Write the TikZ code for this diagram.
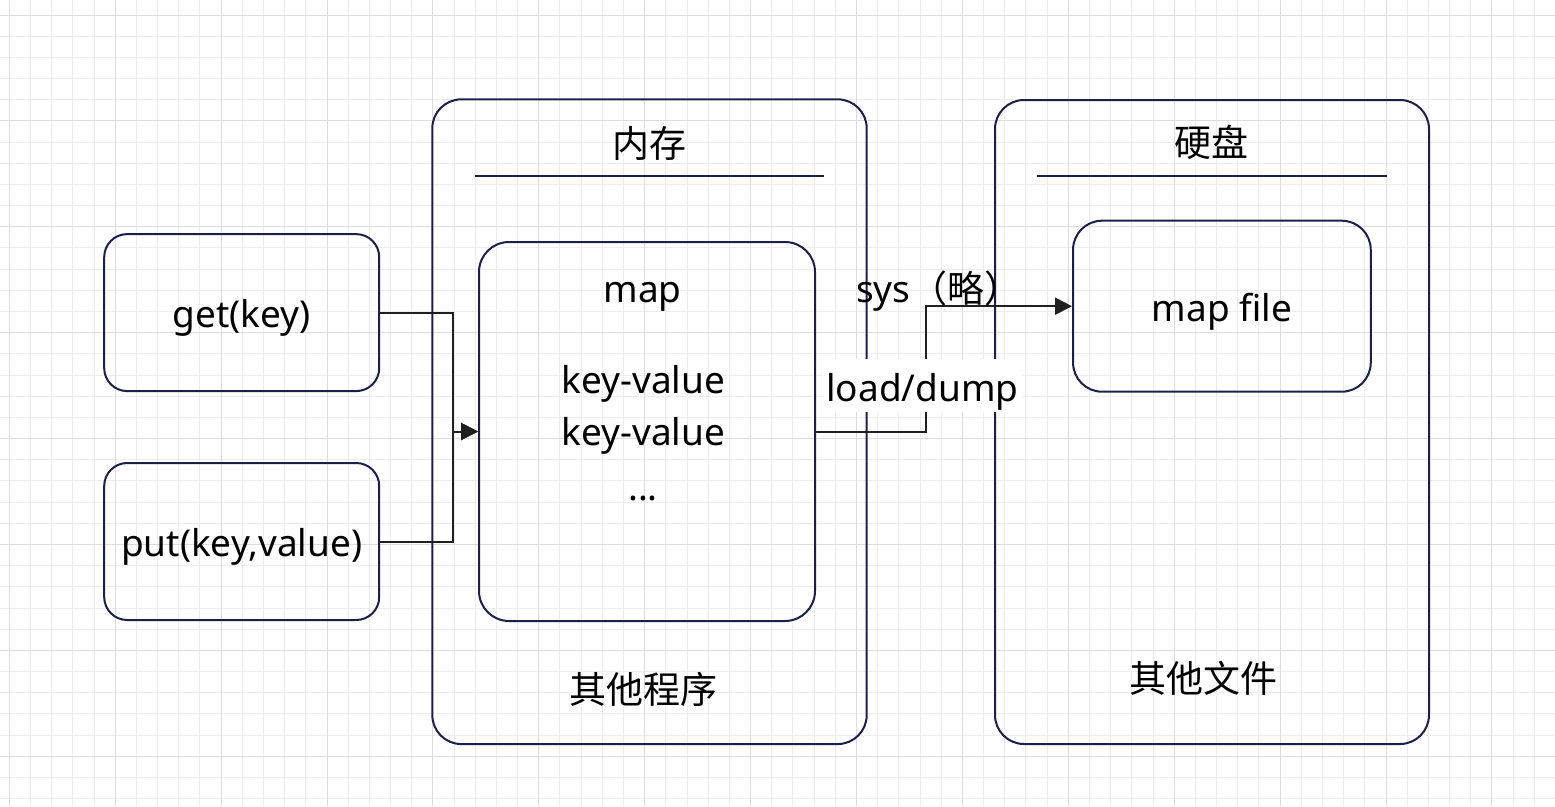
\documentclass[tikz,border=0pt]{standalone}
\usepackage{fontspec}
\setmainfont{Noto Sans}
\newfontfamily\cjk{Noto Sans CJK SC}
\usetikzlibrary{arrows.meta,calc}
\definecolor{navy}{HTML}{1C1F4A}
\definecolor{gridminor}{HTML}{EDEDED}
\definecolor{gridmajor}{HTML}{DCDCDC}
\definecolor{connclr}{HTML}{1F1F1F}
\begin{document}
\begin{tikzpicture}[x=1pt,y=-1pt,
  every node/.style={font=\fontsize{37}{44}\selectfont, inner sep=0pt},
  box/.style={draw=navy, line width=2pt, rounded corners=#1},
  box/.default=23pt,
  boxtext/.style={text height=29.6pt, text depth=0pt},
  connector/.style={draw=connclr, line width=2pt, -{Triangle[length=17pt,width=17pt]}},
  titleline/.style={draw=navy, line width=2pt},
  gminor/.style={draw=gridminor, line width=1pt},
  gmajor/.style={draw=gridmajor, line width=1pt},
  lbl/.style={anchor=base},
  cjklbl/.style={anchor=center, font=\fontsize{37}{44}\selectfont\cjk}
]
\useasboundingbox (0,0) rectangle (1555,806);
\fill[white] (0,0) rectangle (1555,806);
% grid
\foreach \i in {0,...,73} {\pgfmathsetmacro\xx{9.3+\i*21.18}\draw[gminor] (\xx,0) -- (\xx,806);}
\foreach \j in {0,...,37} {\pgfmathsetmacro\yy{15+\j*21.18}\draw[gminor] (0,\yy) -- (1555,\yy);}
\foreach \i in {0,5,...,70} {\pgfmathsetmacro\xx{9.3+\i*21.18}\draw[gmajor] (\xx,0) -- (\xx,806);}
\foreach \j in {0,5,...,35} {\pgfmathsetmacro\yy{15+\j*21.18}\draw[gmajor] (0,\yy) -- (1555,\yy);}

% outer containers
\node[box=29pt, minimum width=434.4pt, minimum height=644.7pt] (mem) at (649.5,421.7) {};
\node[box=29pt, minimum width=434pt, minimum height=644pt] (disk) at (1212,422) {};

% titles
\node[cjklbl] (memtitle) at (649,143.3) {内存};
\draw[titleline] (475,175.5) -- (823.7,175.5);
\node[cjklbl] (disktitle) at (1211.3,142.5) {硬盘};
\draw[titleline] (1037.3,175.7) -- (1386.7,175.7);

% inner boxes
\node[box, boxtext, minimum width=275pt, minimum height=157pt] (get) at (241.7,312.6) {get(key)};
\node[box, boxtext, minimum width=275pt, minimum height=157pt] (put) at (241.7,541.5) {put(key,value)};
\node[box=30pt, minimum width=336pt, minimum height=379pt] (map) at (647,431.5) {};
\node[box=29pt, boxtext, minimum width=297.7pt, minimum height=171pt] (mapfile) at (1221.9,306.2) {map file};

% map contents
\node[lbl] (maptitle) at (642.5,302.7) {map};
\node[lbl] (kv1) at (643.3,393.3) {key-value};
\node[lbl] (kv2) at (643.3,445) {key-value};
\node[lbl] (dots) at (643,500) {...};

% footers
\node[cjklbl] (memfoot) at (643,689.7) {其他程序};
\node[cjklbl] (diskfoot) at (1203,678.3) {其他文件};

% connectors
\draw[connector] (get.east) -- ++(72.4,0) |- (map.west);
\draw[connector] (put.east) -- ++(72.4,0) |- (map.west);
\draw[connector] (map.east) -- ++(109.7,0) |- (mapfile.west);

% connector labels
\node[fill=white, inner xsep=3.7pt, text height=42.7pt, text depth=10pt] (dumplbl) at (922.5,385.4) {load/dump};
\node[anchor=base west] (syslbl) at (856,302.7) {sys{\cjk （略）}};
\end{tikzpicture}
\end{document}
